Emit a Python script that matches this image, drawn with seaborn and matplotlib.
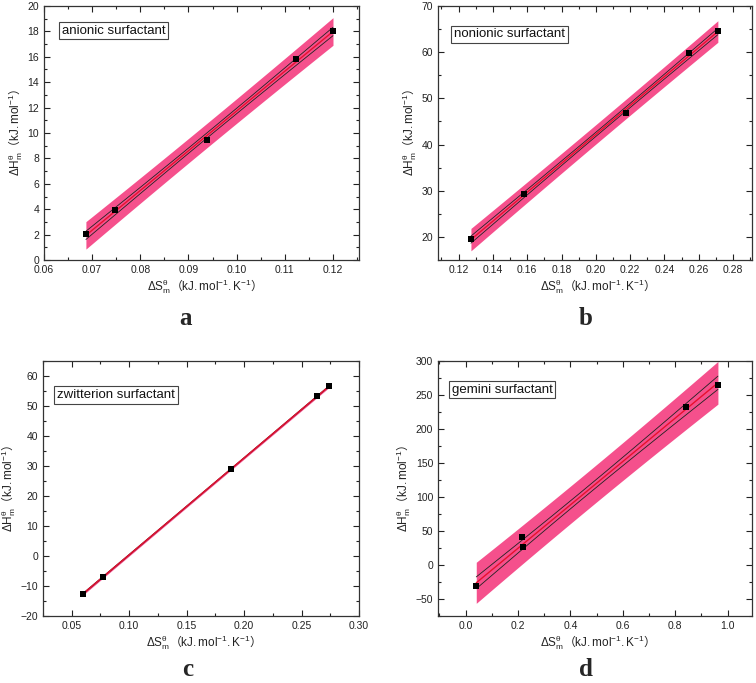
import numpy as np
import pandas as pd
import matplotlib
matplotlib.use("Agg")
import matplotlib.pyplot as plt
import seaborn as sns
from matplotlib.ticker import MultipleLocator, AutoMinorLocator, FormatStrFormatter

# values
anionic_ds = [0.0687, 0.0748, 0.0939, 0.1123, 0.1200]
anionic_dh = [2.04, 3.93, 9.42, 15.8, 18.0]

nonionic_ds = [0.1272, 0.1582, 0.2174, 0.2544, 0.2711]
nonionic_dh = [19.6, 29.2, 46.8, 59.8, 64.5]

zwitter_ds = [0.0595, 0.0772, 0.1890, 0.2633, 0.2743]
zwitter_dh = [-12.7, -6.9, 29.1, 53.3, 56.6]

gemini_ds = [0.041, 0.217, 0.220, 0.843, 0.963]
gemini_dh = [-31.4, 40.5, 26.3, 233.0, 264.0]

names = ["anionic surfactant", "nonionic surfactant", "zwitterion surfactant", "gemini surfactant"]
letters = ["a", "b", "c", "d"]

sns.set_style("ticks")
plt.rcParams["font.family"] = ["Liberation Sans", "Noto Sans CJK SC", "DejaVu Sans"]
plt.rcParams["mathtext.fontset"] = "custom"
plt.rcParams["mathtext.rm"] = "Liberation Sans"
plt.rcParams["mathtext.it"] = "Liberation Sans:italic"

T_PRED = 3.182  # t(0.975, df=3): 95% prediction band, 5 points
T_CONF = 1.638  # t(0.90, df=3): confidence lines of the fit

ylab = r"$\mathrm{\Delta H_m^{\theta}}$（$\mathrm{kJ.mol^{-1}}$）"
xlab = r"$\mathrm{\Delta S_m^{\theta}}$（$\mathrm{kJ.mol^{-1}.K^{-1}}$）"

band_col = "#F5508C"
fit_col = "#E8102E"


def fit_bands(x, y):
    x = np.asarray(x); y = np.asarray(y)
    n = len(x)
    b1, b0 = np.polyfit(x, y, 1)
    s = np.sqrt(np.sum((y - (b0 + b1 * x)) ** 2) / (n - 2))
    sxx = np.sum((x - x.mean()) ** 2)
    xs = np.linspace(x.min(), x.max(), 200)
    yh = b0 + b1 * xs
    ci = T_CONF * s * np.sqrt(1 / n + (xs - x.mean()) ** 2 / sxx)
    pi = T_PRED * s * np.sqrt(1 + 1 / n + (xs - x.mean()) ** 2 / sxx)
    return pd.DataFrame({"x": xs, "fit": yh, "ci_lo": yh - ci, "ci_hi": yh + ci,
                         "pi_lo": yh - pi, "pi_hi": yh + pi})


def draw_panel(ax, x, y, name, xlim, ylim, xmaj, ymaj, xfmt, box_xy):
    df = pd.DataFrame({"x": x, "y": y})
    fb = fit_bands(x, y)
    ax.fill_between(fb["x"], fb["pi_lo"], fb["pi_hi"], color=band_col, lw=0, zorder=1)
    sns.lineplot(data=fb, x="x", y="ci_lo", ax=ax, color="#222222", lw=0.6, zorder=2)
    sns.lineplot(data=fb, x="x", y="ci_hi", ax=ax, color="#222222", lw=0.6, zorder=2)
    sns.lineplot(data=fb, x="x", y="fit", ax=ax, color=fit_col, lw=1.0, zorder=3)
    sns.scatterplot(data=df, x="x", y="y", ax=ax, marker="s", s=24, color="black",
                    edgecolor="black", linewidth=0, zorder=4)
    ax.set_xlim(*xlim)
    ax.set_ylim(*ylim)
    ax.xaxis.set_major_locator(MultipleLocator(xmaj))
    ax.yaxis.set_major_locator(MultipleLocator(ymaj))
    ax.xaxis.set_minor_locator(AutoMinorLocator(2))
    ax.yaxis.set_minor_locator(AutoMinorLocator(2))
    ax.xaxis.set_major_formatter(FormatStrFormatter(xfmt))
    ax.tick_params(which="both", direction="in", top=True, right=True,
                   labelsize=7.5, colors="#222222", width=0.8)
    ax.tick_params(which="major", length=4)
    ax.tick_params(which="minor", length=2.5)
    for sp in ax.spines.values():
        sp.set_linewidth(0.9)
        sp.set_color("#333333")
    ax.set_xlabel(xlab, fontsize=8.5, color="#222222", labelpad=2,
                  family=["Noto Sans CJK SC", "DejaVu Sans"])
    ax.set_ylabel(ylab, fontsize=8.5, color="#222222", labelpad=2,
                  family=["Noto Sans CJK SC", "DejaVu Sans"])
    ax.text(box_xy[0], box_xy[1], name, transform=ax.transAxes, ha="center", va="center",
            fontsize=9.5, color="#111111",
            bbox=dict(boxstyle="square,pad=0.2", fc="white", ec="#444444", lw=0.8))


fig = plt.figure(figsize=(7.56, 6.83), dpi=100)
ax_a = fig.add_axes([44 / 756, 1 - 260 / 683, 315 / 756, 254 / 683])
ax_b = fig.add_axes([438 / 756, 1 - 260 / 683, 314 / 756, 254 / 683])
ax_c = fig.add_axes([43 / 756, 1 - 616 / 683, 316 / 756, 255 / 683])
ax_d = fig.add_axes([438 / 756, 1 - 616 / 683, 314 / 756, 255 / 683])

draw_panel(ax_a, anionic_ds, anionic_dh, names[0], (0.06, 0.1254), (0, 20), 0.01, 2, "%.2f", (0.221, 0.903))
draw_panel(ax_b, nonionic_ds, nonionic_dh, names[1], (0.108, 0.291), (15, 70), 0.02, 10, "%.2f", (0.228, 0.888))
draw_panel(ax_c, zwitter_ds, zwitter_dh, names[2], (0.025, 0.30), (-20, 65), 0.05, 10, "%.2f", (0.231, 0.867))
draw_panel(ax_d, gemini_ds, gemini_dh, names[3], (-0.105, 1.093), (-75, 300), 0.2, 50, "%.1f", (0.205, 0.888))

letter_pos = [(186, 325), (586, 325), (188, 676), (586, 676)]
for lt, (px, py) in zip(letters, letter_pos):
    fig.text(px / 756, 1 - py / 683, lt, ha="center", va="baseline", fontsize=18,
             fontweight="bold", family="Liberation Serif")

fig.savefig("out.png", dpi=100)
